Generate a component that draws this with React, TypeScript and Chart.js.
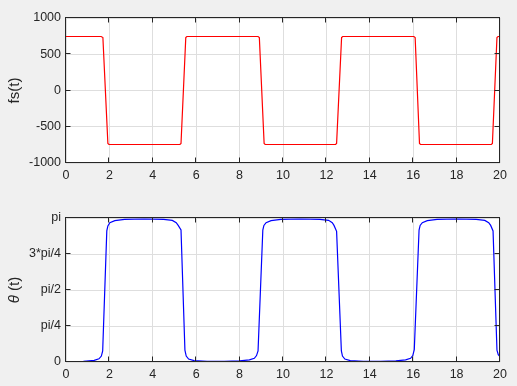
import React, { useEffect, useRef } from "react";
import { Chart, registerables } from "chart.js";

Chart.register(...registerables);

// ---- data ----
const fsTime = [0, 1.62, 1.70, 1.93, 1.98, 5.25, 5.30, 5.52, 5.57, 8.85, 8.91, 9.13, 9.18, 12.42, 12.47, 12.70, 12.75, 16.03, 16.09, 16.29, 16.34, 19.60, 19.65, 19.86, 19.91, 20];
const fsValues = [745, 745, 730, -730, -745, -745, -730, 730, 745, 745, 730, -730, -745, -745, -730, 730, 745, 745, 730, -730, -745, -745, -730, 730, 745, 745];

const thetaTime = [0, 0.8, 1.3, 1.52, 1.63, 1.69, 1.88, 1.93, 2.02, 2.25, 2.7, 3.6, 4.5, 4.9, 5.08, 5.17, 5.30, 5.48, 5.54, 5.65, 5.9, 6.5, 7.3, 8.0, 8.45, 8.68, 8.78, 8.85, 9.07, 9.12, 9.22, 9.45, 9.9, 10.8, 11.7, 12.1, 12.27, 12.35, 12.47, 12.69, 12.74, 12.85, 13.1, 13.7, 14.5, 15.2, 15.65, 15.88, 15.98, 16.05, 16.27, 16.32, 16.42, 16.65, 17.1, 18.0, 18.9, 19.3, 19.48, 19.57, 19.68, 19.86, 19.92, 20];
const thetaValues = [0.01, 0.015, 0.035, 0.07, 0.13, 0.24, 2.86, 2.97, 3.04, 3.085, 3.11, 3.12, 3.11, 3.09, 3.04, 2.98, 2.88, 0.26, 0.13, 0.065, 0.03, 0.015, 0.013, 0.025, 0.045, 0.08, 0.14, 0.24, 2.88, 2.98, 3.04, 3.085, 3.11, 3.12, 3.11, 3.09, 3.04, 2.98, 2.85, 0.24, 0.13, 0.065, 0.03, 0.015, 0.013, 0.025, 0.045, 0.08, 0.14, 0.27, 2.88, 2.98, 3.04, 3.085, 3.11, 3.12, 3.11, 3.09, 3.04, 2.98, 2.86, 0.26, 0.16, 0.12];

const xTickValues = [0, 2, 4, 6, 8, 10, 12, 14, 16, 18, 20];
const fsTickValues = [-1000, -500, 0, 500, 1000];
const thetaTickValues = [0, Math.PI / 4, Math.PI / 2, (3 * Math.PI) / 4, Math.PI];
const thetaTickLabels = ["0", "pi/4", "pi/2", "3*pi/4", "pi"];

const AXIS_COLOR = "#262626";
const GRID_COLOR = "#dedede";
const FONT_FAMILY = "'Liberation Sans', Arial, Helvetica, sans-serif";

const whiteAreaPlugin = {
  id: "whiteArea",
  beforeDraw(chart: any) {
    const { left, right, top, bottom } = chart.chartArea;
    const ctx = chart.ctx;
    ctx.save();
    ctx.fillStyle = "#ffffff";
    ctx.fillRect(left, top, right - left, bottom - top);
    ctx.restore();
  },
};

function framePlugin(labelParts: { text: string; italic: boolean }[]) {
  return {
    id: "matlabFrame",
    afterDraw(chart: any) {
      const ctx = chart.ctx;
      const { left, right, top, bottom } = chart.chartArea;
      const L = Math.round(left) - 0.5;
      const R = Math.round(right) - 0.5;
      const T = Math.round(top) - 0.5;
      const B = Math.round(bottom) - 0.5;
      ctx.save();
      ctx.strokeStyle = AXIS_COLOR;
      ctx.lineWidth = 1;
      ctx.strokeRect(L, T, R - L, B - T);
      const tl = 5;
      ctx.beginPath();
      const xs = chart.scales.x;
      xs.ticks.forEach((t: any) => {
        const px = Math.round(xs.getPixelForValue(t.value)) - 0.5;
        ctx.moveTo(px, B);
        ctx.lineTo(px, B - tl);
        ctx.moveTo(px, T);
        ctx.lineTo(px, T + tl);
      });
      const ys = chart.scales.y;
      ys.ticks.forEach((t: any) => {
        const py = Math.round(ys.getPixelForValue(t.value)) - 0.5;
        ctx.moveTo(L, py);
        ctx.lineTo(L + tl, py);
        ctx.moveTo(R, py);
        ctx.lineTo(R - tl, py);
      });
      ctx.stroke();

      // y axis label
      ctx.fillStyle = AXIS_COLOR;
      ctx.translate(15, (top + bottom) / 2);
      ctx.rotate(-Math.PI / 2);
      ctx.textBaseline = "middle";
      const fontFor = (p: any) => (p.italic ? "italic " : "") + "15px " + FONT_FAMILY;
      let total = 0;
      labelParts.forEach((p) => {
        ctx.font = fontFor(p);
        total += ctx.measureText(p.text).width;
      });
      let x = -total / 2;
      ctx.textAlign = "left";
      labelParts.forEach((p) => {
        ctx.font = fontFor(p);
        ctx.fillText(p.text, x, 0);
        x += ctx.measureText(p.text).width;
      });
      ctx.restore();
    },
  };
}

function makeConfig(
  times: number[],
  values: number[],
  color: string,
  yMin: number,
  yMax: number,
  yTicks: number[],
  yLabel: (v: number, i: number) => string,
  padTop: number,
  xHeight: number,
  labelParts: { text: string; italic: boolean }[]
): any {
  return {
    type: "line",
    data: {
      datasets: [
        {
          data: times.map((t, i) => ({ x: t, y: values[i] })),
          borderColor: color,
          borderWidth: 1.2,
          pointRadius: 0,
          tension: 0,
          fill: false,
        },
      ],
    },
    options: {
      responsive: false,
      animation: false,
      layout: { padding: { top: padTop, right: 17, left: 0, bottom: 0 } },
      plugins: { legend: { display: false }, tooltip: { enabled: false } },
      scales: {
        x: {
          type: "linear",
          min: 0,
          max: 20,
          afterBuildTicks: (s: any) => {
            s.ticks = xTickValues.map((v) => ({ value: v }));
          },
          afterFit: (s: any) => {
            s.height = xHeight;
          },
          ticks: {
            autoSkip: false,
            maxRotation: 0,
            padding: 5,
            color: AXIS_COLOR,
            font: { family: FONT_FAMILY, size: 12.5 },
            callback: (v: any) => String(v),
          },
          grid: { color: GRID_COLOR, drawTicks: false, lineWidth: 1 },
          border: { display: false },
        },
        y: {
          type: "linear",
          min: yMin,
          max: yMax,
          afterBuildTicks: (s: any) => {
            s.ticks = yTicks.map((v) => ({ value: v }));
          },
          afterFit: (s: any) => {
            s.width = 66;
          },
          ticks: {
            autoSkip: false,
            padding: 5,
            color: AXIS_COLOR,
            font: { family: FONT_FAMILY, size: 12.5 },
            callback: (v: any, i: number) => yLabel(v, i),
          },
          grid: { color: GRID_COLOR, drawTicks: false, lineWidth: 1 },
          border: { display: false },
        },
      },
    },
    plugins: [whiteAreaPlugin, framePlugin(labelParts)],
  };
}

export default function App() {
  const topRef = useRef<HTMLCanvasElement>(null);
  const botRef = useRef<HTMLCanvasElement>(null);

  useEffect(() => {
    const c1 = new Chart(
      topRef.current!,
      makeConfig(fsTime, fsValues, "#ff0000", -1000, 1000, fsTickValues, (v) => String(v), 18, 30, [
        { text: "fs(t)", italic: false },
      ])
    );
    const c2 = new Chart(
      botRef.current!,
      makeConfig(thetaTime, thetaValues, "#0000ff", 0, Math.PI, thetaTickValues, (_v, i) => thetaTickLabels[i], 25, 24, [
        { text: "θ", italic: true },
        { text: " (t)", italic: false },
      ])
    );
    return () => {
      c1.destroy();
      c2.destroy();
    };
  }, []);

  return (
    <div
      style={{
        position: "fixed",
        left: 0,
        top: 0,
        width: 517,
        height: 386,
        background: "#f0f0f0",
      }}
    >
      <canvas
        ref={topRef}
        width={517}
        height={193}
        style={{ position: "absolute", left: 0, top: 0, width: 517, height: 193 }}
      />
      <canvas
        ref={botRef}
        width={517}
        height={193}
        style={{ position: "absolute", left: 0, top: 193, width: 517, height: 193 }}
      />
    </div>
  );
}
